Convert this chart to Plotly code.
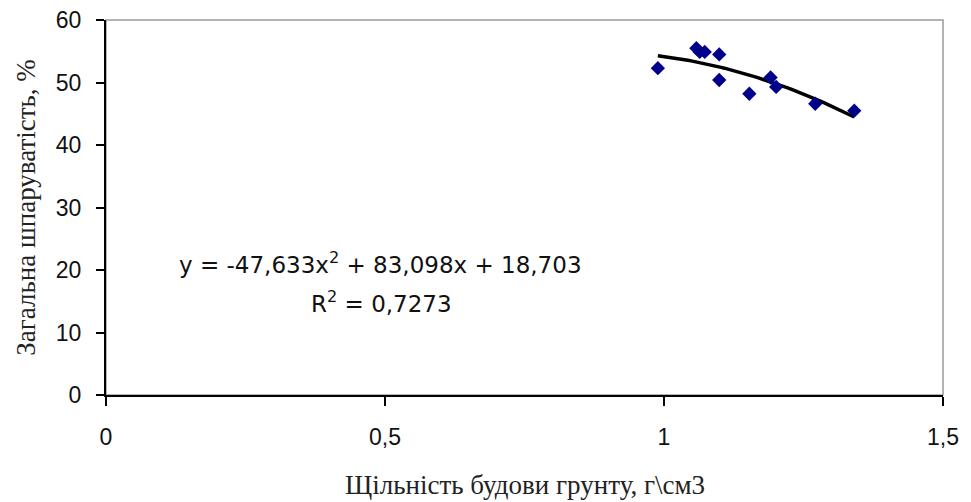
import numpy as np
import plotly.graph_objects as go

# Data
density = [0.989, 1.058, 1.064, 1.073, 1.099, 1.099, 1.153, 1.191, 1.201, 1.271, 1.341]
porosity = [52.3, 55.5, 54.9, 54.9, 54.5, 50.4, 48.2, 50.8, 49.3, 46.6, 45.5]

# Trendline coefficients shown on the chart (a*x^2 + b*x + c)
trend_coefs = [-47.633, 83.098, 18.703]

x_ticks = [0, 0.5, 1, 1.5]
x_ticktext = ["0", "0,5", "1", "1,5"]
y_ticks = [0, 10, 20, 30, 40, 50, 60]

xt = np.linspace(min(density), max(density), 60)
yt = np.polyval(trend_coefs, xt)

fig = go.Figure()
fig.add_trace(go.Scatter(x=xt, y=yt, mode="lines",
                         line=dict(color="black", width=3.5), showlegend=False))
fig.add_trace(go.Scatter(x=density, y=porosity, mode="markers",
                         marker=dict(symbol="diamond", size=11, color="#00008B"),
                         showlegend=False))

fig.add_shape(type="rect", xref="paper", yref="paper", x0=0, x1=1, y0=0, y1=1,
              line=dict(color="#9a9a9a", width=1.5), layer="below")

L, R, T, B = 106, 943, 20, 395
W, H = R - L, B - T

ann_font = dict(family="DejaVu Sans", size=23, color="#111")
fig.add_annotation(xref="paper", yref="paper", x=(380 - L) / W, y=(B - 263) / H,
                   text="y = -47,633x<sup>2</sup> + 83,098x + 18,703", showarrow=False,
                   font=ann_font, xanchor="center", yanchor="middle")
fig.add_annotation(xref="paper", yref="paper", x=(381 - L) / W, y=(B - 302) / H,
                   text="R<sup>2</sup> = 0,7273", showarrow=False,
                   font=ann_font, xanchor="center", yanchor="middle")

tick_font = dict(family="Liberation Sans, Arial", size=23, color="#111")
title_font = dict(family="Liberation Serif, Times New Roman", size=27, color="#222")

# x-axis title placed explicitly below the tick labels
fig.add_annotation(xref="paper", yref="paper", x=0.5, y=(B - 485) / H,
                   text="Щільність будови грунту, г\\см3", showarrow=False,
                   font=title_font, xanchor="center", yanchor="middle")

fig.update_layout(
    width=971, height=502,
    margin=dict(l=L, r=971 - R, t=T, b=502 - B),
    paper_bgcolor="white", plot_bgcolor="white",
    xaxis=dict(range=[0, 1.5], tickvals=x_ticks, ticktext=x_ticktext,
               showgrid=False, zeroline=False, showline=True, linecolor="black", linewidth=2,
               ticks="outside", ticklen=9, tickcolor="black", tickwidth=1.5,
               tickfont=tick_font, ticklabelstandoff=11, automargin=False),
    yaxis=dict(range=[0, 60], tickvals=y_ticks,
               showgrid=False, zeroline=False, showline=True, linecolor="black", linewidth=2,
               ticks="outside", ticklen=8, tickcolor="black", tickwidth=1.5,
               tickfont=tick_font, ticklabelstandoff=10, automargin=False,
               title=dict(text="Загальна шпаруватість, %", font=title_font, standoff=12)),
)

fig.write_html("out.html")
